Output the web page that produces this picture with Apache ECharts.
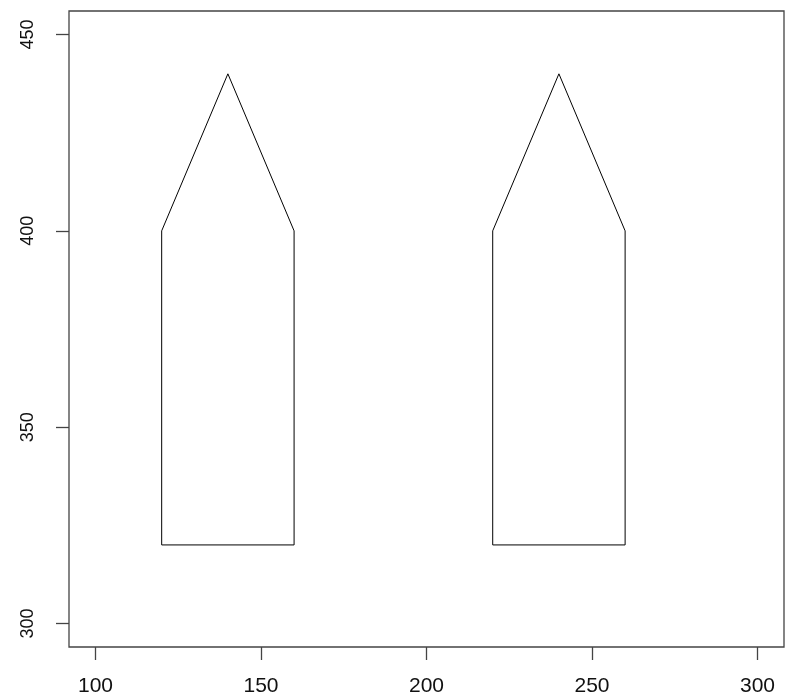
<!DOCTYPE html>
<html><head><meta charset="utf-8">
<script src="https://cdn.jsdelivr.net/npm/echarts@6/dist/echarts.min.js"></script>
<style>html,body{margin:0;padding:0;background:#fff}#c{width:791px;height:697px}</style>
</head><body><div id="c"></div>
<script>
const xTicks = [100, 150, 200, 250, 300];
const yTicks = [300, 350, 400, 450];
const shape1X = [120, 120, 140, 160, 160, 120];
const shape1Y = [320, 400, 440, 400, 320, 320];
const shape2X = [220, 220, 240, 260, 260, 220];
const shape2Y = [320, 400, 440, 400, 320, 320];

const zip = (xs, ys) => xs.map((x, i) => [x, ys[i]]);
const chart = echarts.init(document.getElementById('c'), null, {renderer: 'canvas'});
const font = 'Liberation Sans, Arial, sans-serif';
chart.setOption({
  animation: false,
  backgroundColor: '#fff',
  grid: {left: 69, right: 7, top: 11, bottom: 50, show: true, borderColor: '#444', borderWidth: 1.3, containLabel: false},
  xAxis: {
    type: 'value', min: 92, max: 308,
    axisLine: {show: false},
    splitLine: {show: false},
    axisTick: {show: true, length: 13, customValues: xTicks, lineStyle: {color: '#444', width: 1.3}},
    axisLabel: {customValues: xTicks, margin: 29, fontSize: 21, color: '#111', fontFamily: font}
  },
  yAxis: {
    type: 'value', min: 294, max: 456,
    axisLine: {show: false},
    splitLine: {show: false},
    axisTick: {show: true, length: 13, customValues: yTicks, lineStyle: {color: '#444', width: 1.3}},
    axisLabel: {customValues: yTicks, margin: 32, fontSize: 18, color: '#111', fontFamily: font, rotate: 90}
  },
  series: [
    {type: 'line', data: zip(shape1X, shape1Y), showSymbol: false, symbol: 'none', lineStyle: {color: '#000', width: 1}},
    {type: 'line', data: zip(shape2X, shape2Y), showSymbol: false, symbol: 'none', lineStyle: {color: '#000', width: 1}}
  ]
});
</script></body></html>
